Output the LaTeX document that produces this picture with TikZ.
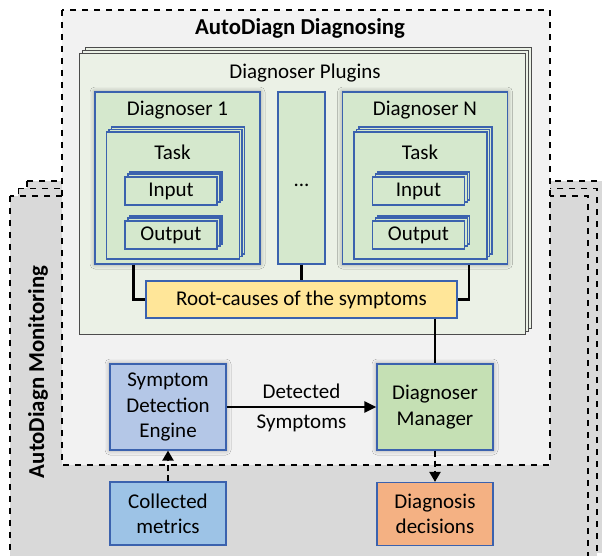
\documentclass[tikz,border=0pt]{standalone}
\usepackage{fontspec}
\setmainfont{Carlito}
\usetikzlibrary{arrows.meta,shadows,shadows.blur}
\definecolor{monfill}{HTML}{D9D9D9}
\definecolor{diagfill}{HTML}{F2F2F2}
\definecolor{plugfill}{HTML}{EBF1E6}
\definecolor{grfill}{HTML}{D5E8CD}
\definecolor{mgrfill}{HTML}{C5E0B4}
\definecolor{bordblue}{HTML}{3B62AE}
\definecolor{rootfill}{HTML}{FFE699}
\definecolor{sdefill}{HTML}{B4C7E7}
\definecolor{metfill}{HTML}{9DC3E6}
\definecolor{decfill}{HTML}{F4B183}

\begin{document}
\begin{tikzpicture}[x=0.5pt, y=-0.5pt,
    every node/.style={font=\fontsize{10.5}{12.7}\selectfont},
    head/.style={font=\fontsize{11.4}{13}\selectfont\bfseries},
    box/.style={draw=bordblue, line width=0.6pt, align=center, inner sep=0pt},
    glow/.style={blur shadow={shadow xshift=0pt, shadow yshift=0pt, shadow blur radius=2.5pt, shadow opacity=40}},
    pile/.style 2 args={copy shadow={shadow xshift=#2, shadow yshift=#2, fill=grfill, draw=bordblue, line width=0.6pt},
                        copy shadow={shadow xshift=#1, shadow yshift=#1, fill=grfill, draw=bordblue, line width=0.6pt}},
    link/.style={line width=1.2pt},
    flow/.style={line width=1.1pt, dash pattern=on 3pt off 2pt, -{Triangle[length=5pt, width=5.5pt]}}]

  \useasboundingbox (0,0) rectangle (602,556);
  \clip (0,0) rectangle (602,556);

  \foreach \d in {2,1,0}
    \draw[dashed, fill=monfill, line width=0.6pt] (10+8.5*\d,196-7.5*\d) rectangle (588+9*\d,568-7.5*\d);
  \node[head, rotate=90] (montitle) at (38,372) {AutoDiagn Monitoring};

  \draw[dashed, fill=diagfill, line width=0.6pt] (62,10) rectangle (550,465);
  \node[head] (diagtitle) at (300,28) {AutoDiagn Diagnosing};

  \foreach \d in {2,1,0}
    \draw[fill=plugfill, draw=black!70, line width=0.5pt] (80+3*\d,54-3*\d) rectangle (526+3*\d,335-3*\d);
  \node (plugtitle) at (305,73) {Diagnoser Plugins};

  \foreach \cx/\n/\lab in {177.5/1/1, 425/N/N} {
    \node[box, glow, fill=grfill, minimum width=82.5pt, minimum height=86pt] (diag\n) at (\cx,178) {};
    \node (diag\n-t) at (\cx,110) {Diagnoser \lab};
    \node[box, pile={1.25pt}{2.5pt}, fill=grfill, minimum width=66.5pt, minimum height=63.5pt] (task\n) at (\cx-4.5,195.5) {};
    \node (task\n-t) at (\cx-5,152) {Task};
    \node[box, pile={1.5pt}{2.5pt}, fill=grfill, minimum width=46pt, minimum height=14pt] (in\n) at (\cx-6.5,191) {Input};
    \node[box, pile={1.5pt}{2.5pt}, fill=grfill, minimum width=46pt, minimum height=14pt] (out\n) at (\cx-6.5,235) {Output};
  }
  \node[box, fill=grfill, minimum width=23.5pt, minimum height=86pt] (dots) at (301.5,178) {};
  \node (dots-t) at (301.5,185) {...};

  \node[box, fill=rootfill, minimum width=155.5pt, minimum height=18.5pt] (root) at (301.5,299.5) {Root-causes of the symptoms};
  \draw[link] ([xshift=-22pt]diag1.south) |- (root.west);
  \draw[link] ([xshift=22pt]diagN.south) |- (root.east);
  \draw[link] (dots.south) -- (root.north);

  \node[box, glow, fill=sdefill, minimum width=58pt, minimum height=43pt] (sde) at (168,407) {Symptom\\Detection\\Engine};
  \node[box, glow, fill=mgrfill, minimum width=58pt, minimum height=43pt] (mgr) at (435,407) {Diagnoser\\Manager};
  \node[box, fill=metfill, minimum width=58pt, minimum height=31.5pt] (met) at (168,513.5) {Collected\\metrics};
  \node[box, fill=decfill, minimum width=58pt, minimum height=31.5pt] (dec) at (435,514) {Diagnosis\\decisions};

  \draw[link] (root.south -| mgr.north) -- (mgr.north);
  \draw[link, -{Triangle[length=6pt, width=5.5pt]}] (sde) -- node[above] (det-t) {Detected} node[below] (sym-t) {Symptoms} (mgr);
  \draw[flow] (met) -- (sde);
  \draw[flow] (mgr) -- (dec);
\end{tikzpicture}
\end{document}
